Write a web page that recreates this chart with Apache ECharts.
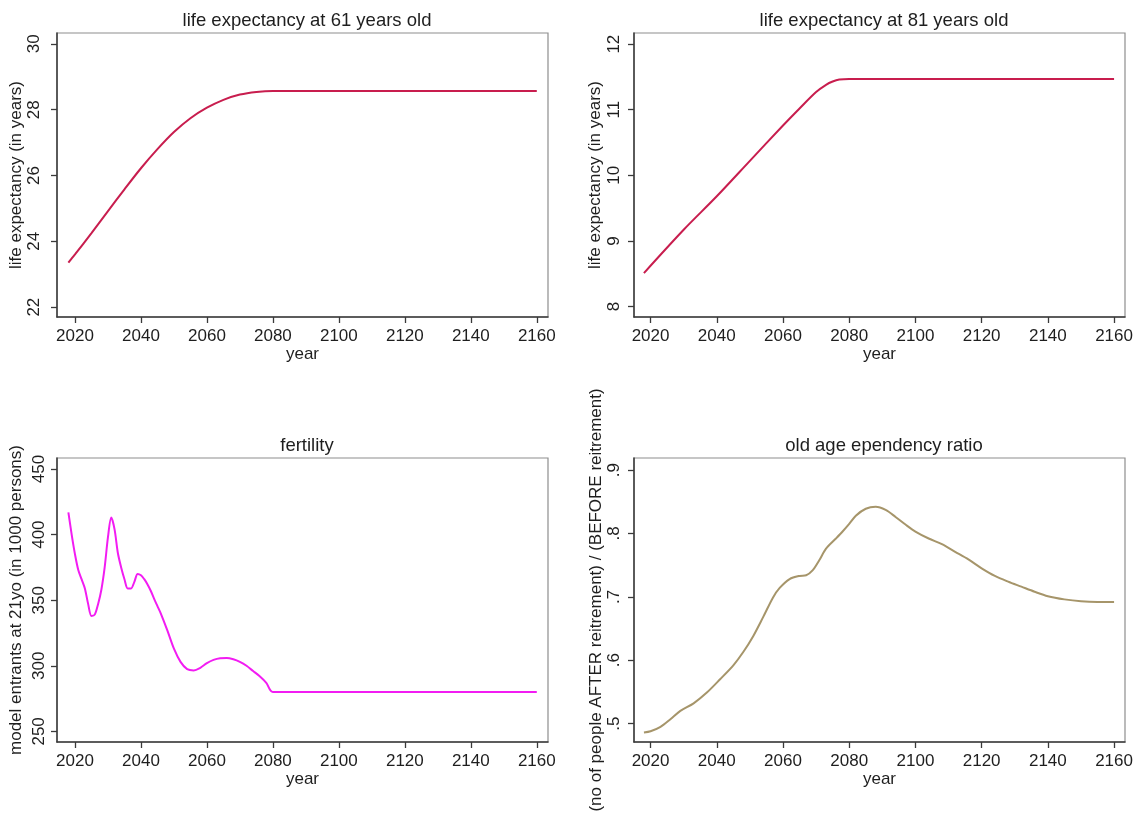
<!DOCTYPE html>
<html>
<head>
<meta charset="utf-8">
<title>Demographic projections</title>
<script src="https://cdn.jsdelivr.net/npm/echarts@6/dist/echarts.min.js"></script>
<style>
  html, body { margin: 0; padding: 0; background: #fff; }
  #chart { width: 1140px; height: 821px; }
</style>
</head>
<body>
<div id="chart"></div>
<script>
// ---- data -------------------------------------------------------------
// life expectancy at age 61 (years)
const years61 = [2018, 2020, 2025, 2030, 2035, 2040, 2045, 2050, 2055, 2060, 2065, 2070, 2075, 2080, 2160];
const le61    = [23.35, 23.6, 24.25, 24.92, 25.58, 26.22, 26.8, 27.32, 27.74, 28.06, 28.3, 28.46, 28.54, 28.57, 28.57];

// life expectancy at age 81 (years)
const years81 = [2018, 2030, 2040, 2050, 2060, 2065, 2070, 2073, 2075, 2077, 2080, 2160];
const le81    = [8.51, 9.17, 9.68, 10.22, 10.76, 11.02, 11.27, 11.38, 11.43, 11.46, 11.47, 11.47];

// model entrants at age 21 (thousand persons)
const yearsFert = [2018, 2019, 2020, 2021, 2022, 2023, 2024, 2025, 2026, 2027, 2028, 2029, 2030, 2031, 2032,
                   2033, 2034, 2035, 2036, 2037, 2038, 2039, 2040, 2041, 2042, 2043, 2044, 2045, 2046, 2048,
                   2050, 2052, 2054, 2056, 2058, 2060, 2062, 2064, 2066, 2068, 2070, 2072, 2074, 2076, 2078,
                   2080, 2160];
const fertility = [417, 400, 385, 373, 366, 359, 347, 338, 339, 347, 358, 375, 398, 413, 404,
                   386, 375, 366, 359, 359, 364, 370, 369, 366, 362, 357, 351, 345.5, 340, 327,
                   313, 303, 297.5, 296.5, 298.5, 302, 304.5, 305.8, 306, 305, 303, 300, 296, 292, 287,
                   280, 280];

// old age dependency ratio
const yearsOad = [2018, 2020, 2023, 2026, 2029, 2033, 2037, 2041, 2045, 2048, 2051, 2054, 2057, 2059, 2062,
                  2065, 2067, 2069, 2071, 2073, 2076, 2078, 2080, 2082, 2085, 2088, 2091, 2094, 2097, 2100,
                  2104, 2108, 2112, 2116, 2120, 2124, 2128, 2132, 2136, 2140, 2145, 2150, 2155, 2160];
const oadr     = [0.486, 0.488, 0.495, 0.507, 0.52, 0.532, 0.549, 0.57, 0.592, 0.613, 0.638, 0.668, 0.699, 0.714, 0.728,
                  0.733, 0.734, 0.742, 0.758, 0.776, 0.792, 0.803, 0.815, 0.828, 0.839, 0.842, 0.837, 0.826, 0.814, 0.803,
                  0.792, 0.783, 0.771, 0.759, 0.745, 0.733, 0.724, 0.716, 0.708, 0.701, 0.696, 0.693, 0.692, 0.692];

// tick labels
const xTicks      = [2020, 2040, 2060, 2080, 2100, 2120, 2140, 2160];
const yTicks61    = [22, 24, 26, 28, 30];
const yTicks81    = [8, 9, 10, 11, 12];
const yTicksFert  = [250, 300, 350, 400, 450];
const yTicksOad   = [0.5, 0.6, 0.7, 0.8, 0.9];

// ---- styling helpers --------------------------------------------------
const FONT = "'Liberation Sans', Arial, sans-serif";
const AXIS_DARK = '#3a3a3a';
const TEXT = '#1e1e1e';

const zip = (xs, ys) => xs.map((x, i) => [x, ys[i]]);

const grids = [
  { left: 57,  top: 33,  width: 491, height: 284 },
  { left: 634, top: 33,  width: 491, height: 284 },
  { left: 57,  top: 458, width: 491, height: 284 },
  { left: 634, top: 458, width: 491, height: 284 }
].map(g => Object.assign(g, { show: true, borderColor: '#8e8e8e', borderWidth: 1.2 }));

function xAxis(gridIndex, min, max) {
  return {
    type: 'value', gridIndex, min, max,
    name: 'year', nameLocation: 'middle', nameGap: 26,
    nameTextStyle: { fontSize: 17, color: TEXT, fontFamily: FONT },
    axisLine: { show: true, onZero: false, lineStyle: { color: AXIS_DARK, width: 1.5 } },
    axisTick: { show: true, length: 6, customValues: xTicks, lineStyle: { color: AXIS_DARK, width: 1.3 } },
    axisLabel: { customValues: xTicks, margin: 11, fontSize: 17, color: TEXT, fontFamily: FONT,
                 formatter: v => String(v) },
    splitLine: { show: false }
  };
}

function yAxis(gridIndex, min, max, ticks, name, nameGap, labelMargin, fmt) {
  return {
    type: 'value', gridIndex, min, max,
    name, nameLocation: 'middle', nameRotate: 90, nameGap,
    nameTextStyle: { fontSize: 17, color: TEXT, fontFamily: FONT },
    axisLine: { show: true, onZero: false, lineStyle: { color: AXIS_DARK, width: 1.5 } },
    axisTick: { show: true, length: 6, customValues: ticks, lineStyle: { color: AXIS_DARK, width: 1.3 } },
    axisLabel: { customValues: ticks, rotate: 90, margin: labelMargin, fontSize: 17, color: TEXT, fontFamily: FONT,
                 formatter: fmt || (v => String(v)) },
    splitLine: { show: false }
  };
}

// ".9" style labels for the ratio axis
const ratioFmt = v => Number(v).toFixed(1).replace(/^0/, '');

function line(idx, data, color) {
  return {
    type: 'line', xAxisIndex: idx, yAxisIndex: idx, data,
    showSymbol: false, symbol: 'none', smooth: 0.3,
    lineStyle: { color, width: 2 }, silent: true
  };
}

function title(text, cx, top) {
  return { text, left: cx, top, textAlign: 'center',
           textStyle: { fontSize: 18.5, fontWeight: 'normal', color: TEXT, fontFamily: FONT } };
}

const option = {
  animation: false,
  backgroundColor: '#fff',
  title: [
    title('life expectancy at 61 years old', 302, 6),
    title('life expectancy at 81 years old', 879, 6),
    title('fertility', 302, 431),
    title('old age ependency ratio', 879, 431)
  ],
  grid: grids,
  xAxis: [
    xAxis(0, 2014.55, 2163.4),
    xAxis(1, 2015, 2163.3),
    xAxis(2, 2014.55, 2163.4),
    xAxis(3, 2015, 2163.3)
  ],
  yAxis: [
    yAxis(0, 21.7, 30.33, yTicks61, 'life expectancy (in years)', 30, 14),
    yAxis(1, 7.84, 12.17, yTicks81, 'life expectancy (in years)', 30, 11),
    yAxis(2, 241.9, 458.4, yTicksFert, 'model entrants at 21yo (in 1000 persons)', 32, 9),
    yAxis(3, 0.471, 0.919, yTicksOad, '(no of people AFTER reitrement) / (BEFORE reitrement)', 26, 11, ratioFmt)
  ],
  series: [
    line(0, zip(years61, le61), '#c81d4e'),
    line(1, zip(years81, le81), '#c81d4e'),
    line(2, zip(yearsFert, fertility), '#f21cf2'),
    line(3, zip(yearsOad, oadr), '#a6956a')
  ]
};

const chart = echarts.init(document.getElementById('chart'), null, { renderer: 'canvas' });
chart.setOption(option);
</script>
</body>
</html>
